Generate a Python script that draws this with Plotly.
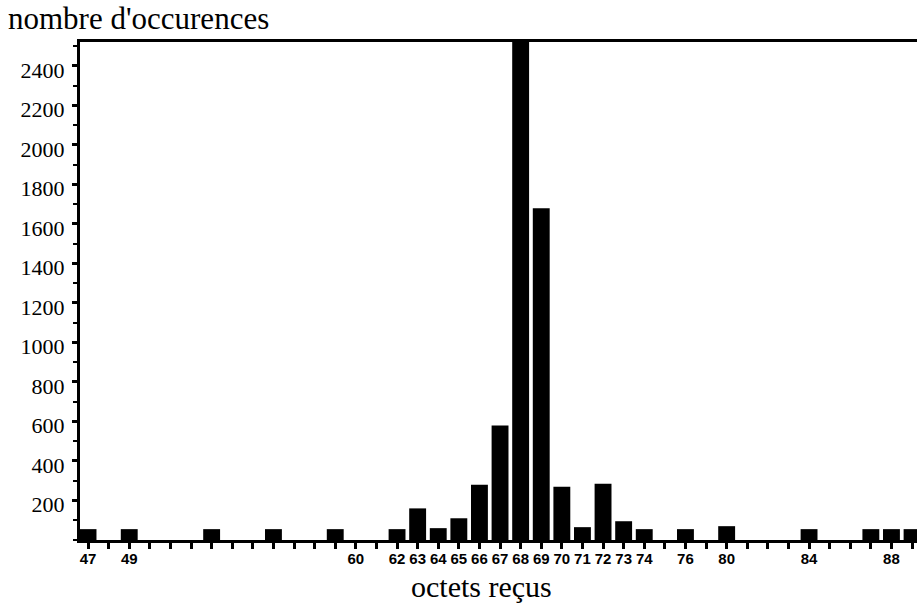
import plotly.graph_objects as go

# Data
octets = [47, 49, 53, 56, 59, 62, 63, 64, 65, 66, 67, 68, 69, 70, 71, 72, 73, 74, 76, 80, 84, 87, 88, 89]
occurrences = [55, 55, 55, 55, 55, 55, 160, 60, 110, 280, 580, 2600, 1680, 270, 65, 285, 95, 55, 55, 70, 55, 55, 55, 55]

# Axis slots as drawn on the original (the axis skips between 76 and 80)
axis_slots = list(range(47, 77)) + [78] + list(range(80, 90))
labelled_slots = [47, 49, 60, 62, 63, 64, 65, 66, 67, 68, 69, 70, 71, 72, 73, 74, 76, 80, 84, 88]
y_tick_values = [200, 400, 600, 800, 1000, 1200, 1400, 1600, 1800, 2000, 2200, 2400]

serif = "Liberation Serif, Times New Roman, serif"

fig = go.Figure()
fig.add_trace(go.Bar(
    x=[str(o) for o in octets],
    y=occurrences,
    marker=dict(color="black", line=dict(width=0)),
    hoverinfo="x+y",
))

fig.update_layout(
    width=917, height=605,
    margin=dict(l=80, r=0, t=42, b=65),
    paper_bgcolor="white", plot_bgcolor="white",
    bargap=0.18,
    showlegend=False,
    title=dict(
        text="nombre d'occurences",
        x=8 / 917, xanchor="left", xref="container",
        y=1 - 18 / 605, yanchor="middle", yref="container",
        font=dict(family=serif, size=31, color="black"),
    ),
    annotations=[dict(
        text="octets reçus",
        xref="paper", yref="paper",
        x=(481 - 80) / 837, y=-(586 - 540) / 498,
        xanchor="center", yanchor="middle",
        showarrow=False,
        font=dict(family=serif, size=30, color="black"),
    )],
)

fig.update_xaxes(
    type="category",
    categoryorder="array",
    categoryarray=[str(s) for s in axis_slots],
    tickmode="array",
    tickvals=[str(s) for s in axis_slots],
    ticktext=[str(s) if s in labelled_slots else "" for s in axis_slots],
    range=[-0.39, 40.24],
    showline=True, linecolor="black", linewidth=3,
    mirror=True,
    ticks="outside", ticklen=6, tickwidth=2.5, tickcolor="black",
    showgrid=False, zeroline=False,
    tickfont=dict(family="Liberation Sans, Arial, sans-serif", size=15, color="black", weight="bold"),
    tickangle=0,
    ticklabelstandoff=-3,
)

fig.update_yaxes(
    range=[0, 2521],
    tickmode="array",
    tickvals=y_tick_values,
    ticktext=[str(v) for v in y_tick_values],
    showline=True, linecolor="black", linewidth=3,
    ticks="outside", ticklen=5, tickwidth=2.5, tickcolor="black",
    minor=dict(dtick=100, tick0=0, ticks="outside", ticklen=4, tickwidth=2, tickcolor="black", showgrid=False),
    showgrid=False, zeroline=False,
    tickfont=dict(family=serif, size=22, color="black"),
    ticklabelshift=4,
    ticklabelstandoff=3,
)

fig.write_html(
    "out.html",
    config={"displayModeBar": False},
    post_script="document.body.style.margin='0';document.body.style.padding='0';",
)
